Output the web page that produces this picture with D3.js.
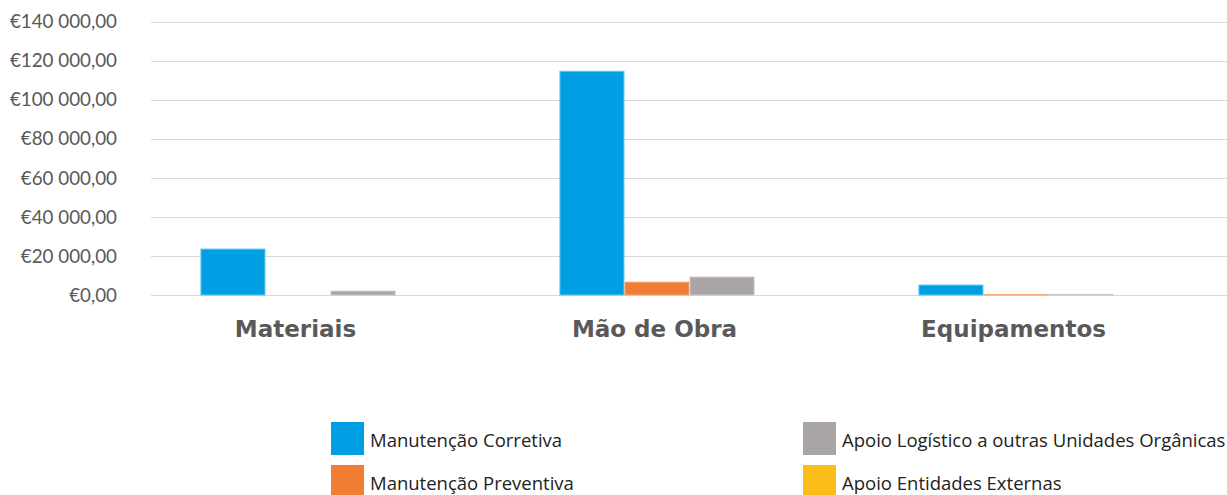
<!DOCTYPE html>
<html>
<head>
<meta charset="utf-8">
<script src="https://cdn.jsdelivr.net/npm/d3@7"></script>
<style>
  body { margin: 0; background: #fff; }
  svg { display: block; font-family: Lato, "Open Sans", sans-serif; }
</style>
</head>
<body>
<div id="chart"></div>
<script>
var categories = ["Materiais", "Mão de Obra", "Equipamentos"];
var seriesNames = [
    "Manutenção Corretiva",
    "Manutenção Preventiva",
    "Apoio Logístico a outras Unidades Orgânicas",
    "Apoio Entidades Externas"
];
var corretiva = [23500, 114500, 5100];
var preventiva = [0, 6600, 250];
var apoioLogistico = [2000, 9200, 300];
var apoioExternas = [0, 0, 0];
var yTicks = [0, 20000, 40000, 60000, 80000, 100000, 120000, 140000];

var colors = ['#009fe3', '#f07d32', '#a9a5a4', '#fbbd17'];
var strokes = ['#5cc6f2', '#f6a978', '#c9c6c5', '#fcd66a'];

var seriesValues = [corretiva, preventiva, apoioLogistico, apoioExternas];

var width = 1227,
    height = 495,
    plotLeft = 151,
    plotRight = 1228,
    plotTop = 21.5,
    plotBottom = 295;

var locale = d3.formatLocale({
    decimal: ",",
    thousands: "\u00a0",
    grouping: [3],
    currency: ["€", ""]
});
var fmt = locale.format("$,.2f");

var svg = d3.select('#chart')
    .append('svg')
    .attr('width', width)
    .attr('height', height);

var y = d3.scaleLinear()
    .domain([0, 140000])
    .range([plotBottom, plotTop]);

var x0 = d3.scaleBand()
    .domain(categories)
    .range([plotLeft, plotRight])
    .padding(0);

var x1 = d3.scaleBand()
    .domain(d3.range(seriesNames.length))
    .range([0, x0.bandwidth()])
    .paddingInner(0)
    .paddingOuter(0.76);

// gridlines
svg.append('g')
    .selectAll('line')
    .data(yTicks)
    .enter()
    .append('line')
    .attr('x1', plotLeft)
    .attr('x2', width)
    .attr('y1', function(d) { return Math.round(y(d)) + 0.5; })
    .attr('y2', function(d) { return Math.round(y(d)) + 0.5; })
    .style('stroke', '#d9d9d9')
    .style('stroke-width', 1);

// y labels
svg.append('g')
    .selectAll('text')
    .data(yTicks)
    .enter()
    .append('text')
    .attr('x', 117)
    .attr('y', function(d) { return y(d); })
    .attr('dy', '0.36em')
    .attr('text-anchor', 'end')
    .style('font-size', '18.8px')
    .style('fill', '#595959')
    .text(function(d) { return fmt(d); });

// bars
var groups = svg.append('g')
    .selectAll('g')
    .data(categories)
    .enter()
    .append('g')
    .attr('transform', function(d) { return 'translate(' + x0(d) + ',0)'; });

groups.selectAll('rect')
    .data(function(d, ci) {
        return seriesValues.map(function(vals, si) { return { s: si, v: vals[ci] }; });
    })
    .enter()
    .filter(function(d) { return d.v > 0; })
    .append('rect')
    .attr('x', function(d) { return x1(d.s) + 0.5; })
    .attr('width', x1.bandwidth() - 1)
    .attr('y', function(d) { return y(d.v); })
    .attr('height', function(d) { return plotBottom - y(d.v); })
    .style('fill', function(d) { return colors[d.s]; })
    .style('stroke', function(d) { return strokes[d.s]; })
    .style('stroke-width', 1);

// category labels
svg.append('g')
    .selectAll('text')
    .data(categories)
    .enter()
    .append('text')
    .attr('x', function(d) { return x0(d) + x0.bandwidth() / 2 - 35; })
    .attr('y', 337)
    .attr('text-anchor', 'middle')
    .style('font-family', '"DejaVu Sans", Verdana, sans-serif')
    .style('font-size', '23px')
    .style('font-weight', 'bold')
    .style('fill', '#595959')
    .text(function(d) { return d; });

// legend
var legendPos = [
    { x: 331, y: 422 },
    { x: 331, y: 465 },
    { x: 803, y: 422 },
    { x: 803, y: 465 }
];

var legend = svg.append('g')
    .selectAll('g')
    .data(seriesNames)
    .enter()
    .append('g')
    .attr('transform', function(d, i) { return 'translate(' + legendPos[i].x + ',' + legendPos[i].y + ')'; });

legend.append('rect')
    .attr('width', 33)
    .attr('height', 33)
    .style('fill', function(d, i) { return colors[i]; });

legend.append('text')
    .attr('x', 39)
    .attr('y', 25)
    .style('font-family', '"Open Sans", Lato, sans-serif')
    .style('font-size', '18.5px')
    .style('fill', '#222')
    .text(function(d) { return d; });
</script>
</body>
</html>
